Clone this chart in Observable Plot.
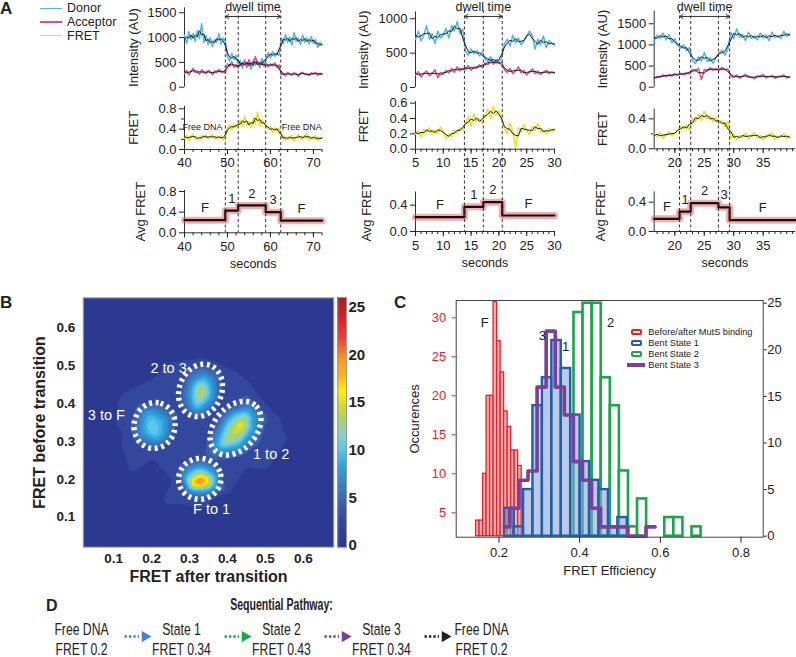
<!DOCTYPE html>
<html><head><meta charset="utf-8">
<script src="https://cdn.jsdelivr.net/npm/d3@7"></script>
<script src="https://cdn.jsdelivr.net/npm/@observablehq/plot@0.6"></script>
<style>
html,body{margin:0;padding:0;background:#fff;}
#root{position:relative;width:796px;height:657px;overflow:hidden;font-family:'Liberation Sans',Arial,sans-serif;color:#222;}
.abs{position:absolute;white-space:nowrap;}
</style></head><body><div id="root"></div>
<script>
// ===================== DATA =====================
// Panel A — legend
const seriesNames = ["Donor", "Acceptor", "FRET"];
const seriesColors = ["#4fb6e6", "#d5509b", "#ece21c"];

// Panel A — column 1 (t = 40 … 72 s, every 0.5 s)
const donor1 = [1050,880,1120,960,1080,920,1150,980,1280,900, 1040,860,1000,820,960,900,1080,870,990,930,
  620,520,680,560,640,470,540,380,560,420, 510,360,560,440,520,390,580,470,560,700,
  590,720,620,690,640,980,880,1060,900,1010, 850,1100,920,980,860,1050,900,990,870,1020, 880,960,800,900,840];
const acceptor1 = [280,340,250,320,380,290,330,260,350,300, 270,340,310,250,330,290,360,300,320,280,
  470,420,510,400,460,390,480,430,520,400, 560,450,430,620,470,440,500,420,480,410,
  470,430,490,400,450,250,280,230,300,260, 240,290,270,220,280,300,250,270,230,290, 260,300,240,280,260];
const fret1 = [.22,.28,.18,.26,.30,.20,.25,.19,.27,.23, .29,.21,.24,.30,.20,.26,.22,.27,.19,.25,
  .42,.48,.38,.50,.44,.47,.58,.45,.66,.48, .55,.42,.62,.50,.74,.46,.58,.52,.47,.40,
  .45,.34,.43,.38,.42,.22,.27,.18,.25,.21, .28,.17,.24,.30,.20,.26,.22,.32,.19,.25, .21,.27,.17,.24,.22];
const transitions1 = [49.5, 52.5, 58.9, 62.4];
const avgLevels1 = [0.245, 0.43, 0.53, 0.40, 0.235];
const stateLabels1 = ["F", "1", "2", "3", "F"];
const freeDnaLabels1 = [{t: 44.2, v: 0.44, s: "Free DNA"}, {t: 67.3, v: 0.44, s: "Free DNA"}];

// Panel A — column 2 (t = 5 … 30 s, every 0.5 s)
const donor2 = [700,820,680,760,900,700,780,640,820,720, 760,860,720,900,820,960,780,850,520,470,
  560,490,540,460,520,420,380,450,360,410, 380,430,640,700,600,760,650,720,620,680,
  750,820,760,560,700,620,750,580,680,640,620];
const acceptor2 = [180,230,150,210,240,170,200,260,140,220, 190,250,210,280,220,300,240,280,260,320,
  250,300,280,330,290,360,330,400,340,380, 350,370,260,220,280,200,240,300,210,250,
  180,230,270,200,240,190,220,250,200,230,210];
const fret2 = [.20,.24,.16,.26,.22,.28,.19,.25,.21,.29, .23,.14,.20,.16,.25,.21,.28,.24,.34,.42,
  .30,.46,.36,.40,.33,.44,.52,.40,.56,.44, .50,.42,.26,.20,.34,.24,.02,.28,.22,.32,
  .25,.19,.30,.24,.34,.22,.26,.20,.27,.23,.27];
const transitions2 = [13.8, 17.2, 20.6];
const avgLevels2 = [0.218, 0.375, 0.445, 0.243];
const stateLabels2 = ["F", "1", "2", "F"];

// Panel A — column 3 (t = 16.5 … 39.5 s, every 0.5 s)
const donor3 = [1100,1230,1150,1280,1120,1250,1050,1150,980,920, 1000,860,940,640,560,720,620,820,600,700,
  560,720,800,880,760,900,1300,1150,1380,1180, 1250,1100,1300,1150,1220,1120,1280,1160,1240,1100,
  1300,1180,1220,1150,1320,1200,1260];
const acceptor3 = [200,260,230,290,250,300,260,320,280,330, 290,350,310,420,380,450,180,420,380,460,
  400,440,390,470,410,430,260,230,290,210, 260,300,230,250,200,270,240,300,220,250,
  280,210,260,240,290,220,250];
const fret3 = [.20,.16,.22,.14,.19,.23,.17,.21,.24,.30, .26,.32,.25,.42,.36,.46,.38,.50,.40,.44,
  .36,.42,.33,.38,.30,.36,.14,.20,.12,.18, .15,.21,.13,.17,.22,.14,.18,.12,.19,.16,
  .21,.13,.17,.15,.20,.14,.17];
const transitions3 = [20.8, 22.7, 27.4, 29.3];
const avgLevels3 = [0.173, 0.27, 0.386, 0.33, 0.155];
const stateLabels3 = ["F", "1", "2", "3", "F"];

// Panel B — transition density samples [FRET after, FRET before, count]
const heatSamples = [
  // empty background
  [0.02,0.02,0],[0.35,0.02,0],[0.68,0.02,0],[0.02,0.35,0],[0.68,0.35,0],[0.02,0.68,0],[0.35,0.68,0],[0.68,0.68,0],
  [0.10,0.15,0],[0.22,0.09,0],[0.40,0.08,0],[0.52,0.14,0],[0.60,0.26,0],[0.60,0.42,0],[0.52,0.52,0],[0.36,0.57,0],[0.22,0.55,0],[0.10,0.46,0],[0.08,0.30,0],
  [0.18,0.18,0],[0.47,0.16,0],[0.56,0.44,0],[0.18,0.50,0],
  // faint patches
  [0.13,0.28,3],[0.15,0.23,3],[0.13,0.42,3],[0.21,0.46,3],[0.25,0.50,3],[0.40,0.48,3],[0.45,0.44,3],[0.52,0.36,3],[0.54,0.30,3],[0.50,0.24,3],[0.24,0.14,3],[0.27,0.25,3],[0.41,0.17,2.5],[0.30,0.32,2.5],
  // F to 1
  [0.33,0.195,25],[0.32,0.19,22],[0.34,0.195,21],[0.31,0.195,18],[0.35,0.19,16],[0.33,0.21,16],[0.30,0.19,14],[0.36,0.20,12],[0.32,0.22,12],[0.33,0.175,11],
  [0.29,0.20,10],[0.345,0.22,10],[0.30,0.17,8],[0.37,0.18,8],[0.33,0.235,8],[0.28,0.21,7],[0.31,0.155,5],[0.375,0.215,7],[0.345,0.16,6],[0.29,0.23,6],
  [0.27,0.20,3],[0.33,0.135,3],[0.39,0.20,3],[0.33,0.265,3],[0.285,0.155,3.5],[0.375,0.155,2],[0.285,0.245,3.5],[0.375,0.245,3],
  // 1 to 2
  [0.435,0.345,18],[0.43,0.335,16],[0.42,0.325,15],[0.41,0.315,14],[0.40,0.305,14],[0.445,0.36,14],[0.425,0.35,14],[0.44,0.325,14],[0.39,0.295,13],[0.405,0.335,13],
  [0.45,0.375,11],[0.455,0.34,11],[0.395,0.32,12],[0.42,0.30,12],[0.38,0.285,10],[0.42,0.365,11],[0.465,0.36,9],[0.38,0.31,9],[0.435,0.29,9],[0.40,0.355,9],
  [0.37,0.27,7],[0.46,0.39,7],[0.475,0.35,6],[0.385,0.355,6],[0.45,0.30,7],[0.41,0.28,8],
  [0.36,0.25,3],[0.47,0.41,3],[0.50,0.34,3.5],[0.44,0.26,3.5],[0.37,0.36,3],[0.40,0.39,3.5],[0.34,0.30,3],[0.49,0.29,3],
  // 2 to 3
  [0.33,0.43,16],[0.33,0.445,14],[0.328,0.415,14],[0.335,0.46,11],[0.32,0.40,12],[0.345,0.435,12],[0.315,0.43,12],[0.34,0.475,8],[0.31,0.39,9],[0.355,0.415,9],
  [0.30,0.42,8],[0.36,0.45,8],[0.325,0.375,7],[0.345,0.49,5],[0.295,0.40,6],[0.365,0.47,6],[0.305,0.46,7],
  [0.33,0.51,3],[0.27,0.43,3],[0.39,0.44,3],[0.33,0.36,3],[0.29,0.37,3],[0.37,0.50,3],[0.29,0.49,3.5],[0.375,0.39,3],
  // 3 to F
  [0.205,0.335,11.5],[0.20,0.35,11],[0.21,0.32,11],[0.195,0.365,10],[0.22,0.34,10],[0.19,0.33,10],[0.215,0.305,9],[0.23,0.355,9],[0.18,0.35,9],[0.20,0.38,8],
  [0.175,0.32,8],[0.235,0.32,8],[0.21,0.29,6],[0.165,0.345,6],[0.245,0.365,6],[0.20,0.395,5],
  [0.14,0.34,3.5],[0.21,0.27,3],[0.27,0.35,3],[0.21,0.41,3],[0.16,0.29,3.5],[0.26,0.30,3],[0.16,0.40,3.5],[0.25,0.40,3]
];
const ellipses = [
  {label: "2 to 3", cx: 0.329, cy: 0.435, a: 0.071, b: 0.056, angle: 70, lx: 0.245, ly: 0.492},
  {label: "3 to F", cx: 0.208, cy: 0.342, a: 0.061, b: 0.054, angle: 80, lx: 0.081, ly: 0.368},
  {label: "1 to 2", cx: 0.421, cy: 0.335, a: 0.080, b: 0.056, angle: 50, lx: 0.515, ly: 0.267},
  {label: "F to 1", cx: 0.327, cy: 0.201, a: 0.056, b: 0.054, angle: 20, lx: 0.358, ly: 0.120}
];
const colorbarTicks = [0, 5, 10, 15, 20, 25];

// Panel C — histograms
const redStart = [0.1345,0.1432,0.1519,0.1606,0.1693,0.1780,0.1867,0.1954,0.2041,0.2128,0.2215,0.2302,0.2389,0.2476];
const redCount = [2,4,4,10,20,20,32,27,23,18,16,13,13,11];          // left axis
const blueStart = [0.2141,0.2375,0.2609,0.2842,0.3076,0.3310,0.3544,0.3778,0.4012,0.4245,0.4479,0.4713,0.4947];
const blueCount = [3,1,5,14,17,21,18,13,8,6,5,1,2];                 // right axis
const greenStart = [0.386,0.4085,0.431,0.4535,0.476,0.4985,0.521,0.5435,0.566,0.5885,0.611,0.6335,0.656,0.6785];
const greenCount = [24,25,25,17,14,7,1,4,0,0,2,2,0,1];              // right axis
const purpleEdges = [0.214,0.227,0.2495,0.272,0.2945,0.317,0.3395,0.362,0.3845,0.407,0.4295,0.452,0.4745,0.497,0.5195,0.542,0.5645,0.587];
const purpleCount = [1,3,6,7,16,22,16,13,8,6,3,1,1,1,0,0,1];         // right axis
const histLabels = [{s: "F", x: 0.165, y: 22.9}, {s: "3", x: 0.3076, y: 21.5}, {s: "1", x: 0.365, y: 20.35}, {s: "2", x: 0.477, y: 22.9}];
const histLegend = ["Before/after MutS binding", "Bent State 1", "Bent State 2", "Bent State 3"];
const histColors = ["#e8202a", "#1f5fad", "#1aa64a", "#7b3f98"];
const leftTicks = [5, 10, 15, 20, 25, 30];
const rightTicks = [0, 5, 10, 15, 20, 25];

// Panel D — pathway
const pathStates = ["Free DNA", "State 1", "State 2", "State 3", "Free DNA"];
const pathFret = [0.2, 0.34, 0.43, 0.34, 0.2];
const pathArrowColors = ["#3d86cb", "#1aa64a", "#7b3f98", "#222222"];

// ===================== LAYOUT / DRAW =====================
const FONT = "'Liberation Sans', Arial, Helvetica, sans-serif";
const W = 796, H = 657, DT = 0.5;
const root = document.getElementById("root");

function place(spec) {
  const {frame, x, y, ...rest} = spec;
  const [x0, y0, x1, y1] = frame;
  const svg = Plot.plot({
    width: W, height: H,
    marginLeft: x0, marginRight: W - x1, marginTop: y0, marginBottom: H - y1,
    x: {axis: null, ...(x || {})},
    y: {axis: null, ...(y || {})},
    ...rest
  });
  Object.assign(svg.style, {position: "absolute", left: "0px", top: "0px", background: "transparent",
    overflow: "visible", fontFamily: FONT, fontSize: "13px", maxWidth: "none"});
  root.appendChild(svg);
  return svg;
}
// horizontally condense the text of a plot (the reference uses a condensed face)
function squeeze(svg, k) {
  svg.querySelectorAll("text").forEach(t => {
    const tr = t.getAttribute("transform") || "";
    t.setAttribute("transform", tr + ` scale(${k},1)`);
  });
}
function html(text, css) {
  const d = document.createElement("div");
  d.className = "abs";
  d.textContent = text;
  Object.assign(d.style, css);
  root.appendChild(d);
  return d;
}
const vLabel = (s, dx, o = {}) => Plot.text([s], {text: d => d, frameAnchor: "left", dx, rotate: -90, textAnchor: "middle", lineAnchor: "middle", fontSize: 13, ...o});
const hLabel = (s, anchor, dy, o = {}) => Plot.text([s], {text: d => d, frameAnchor: anchor, dy, textAnchor: "middle", lineAnchor: "middle", fontSize: 13, ...o});

// ---------- Panel A ----------
const colLayout = [
  {x0: 184, x1: 321.5, xDomain: [40, 72], xTicks: [40, 50, 60, 70], xMinor: d3.range(40, 73, 2),
   int: {top: 7.3, bottom: 86.7, domain: [0, 1600], ticks: [0, 500, 1000, 1500]},
   fr: {top: 105.8, bottom: 149, domain: [0, 0.85], ticks: [0, 0.4, 0.8], minor: [0.2, 0.6]},
   avg: {top: 190, bottom: 232.3, domain: [0, 0.82], ticks: [0, 0.4, 0.8]}, lab: -51, labAvg: -44},
  {x0: 415, x1: 554, xDomain: [5, 30], xTicks: [5, 10, 15, 20, 25, 30], xMinor: d3.range(5, 31, 1),
   int: {top: 11.4, bottom: 87, domain: [0, 1100], ticks: [0, 500, 1000]},
   fr: {top: 101.1, bottom: 148.7, domain: [0, 0.62], ticks: [0, 0.2, 0.4, 0.6], minor: []},
   avg: {top: 191.5, bottom: 231, domain: [0, 0.6], ticks: [0, 0.4]}, lab: -52, labAvg: -49},
  {x0: 653.7, x1: 795.1, xDomain: [16.5, 40.5], xTicks: [20, 25, 30, 35], xMinor: d3.range(17, 41, 1),
   int: {top: 10.6, bottom: 86.7, domain: [0, 1800], ticks: [0, 500, 1000, 1500]},
   fr: {top: 108.6, bottom: 148.3, domain: [0, 0.53], ticks: [0, 0.4], minor: [0.2]},
   avg: {top: 191.4, bottom: 231, domain: [0, 0.54], ticks: [0, 0.4]}, lab: -51, labAvg: -53}
];
const colData = [
  {t0: 40, donor: donor1, acceptor: acceptor1, fret: fret1, transitions: transitions1, levels: avgLevels1, states: stateLabels1, free: freeDnaLabels1},
  {t0: 5, donor: donor2, acceptor: acceptor2, fret: fret2, transitions: transitions2, levels: avgLevels2, states: stateLabels2, free: []},
  {t0: 16.5, donor: donor3, acceptor: acceptor3, fret: fret3, transitions: transitions3, levels: avgLevels3, states: stateLabels3, free: []}
];

function drawColumn(L, D) {
  const rows = arr => arr.map((v, i) => ({t: D.t0 + i * DT, v}));
  const donor = rows(D.donor), acc = rows(D.acceptor), fr = rows(D.fret);
  const smooth = data => Plot.lineY(data, Plot.windowY({k: 3, anchor: "middle"}, {x: "t", y: "v", stroke: "#1a1a1a", strokeWidth: 1}));
  const x = {domain: L.xDomain};
  const yLine = () => Plot.ruleX([L.xDomain[0]], {stroke: "#333", strokeWidth: 1});
  const xLine = () => Plot.ruleY([0], {stroke: "#333", strokeWidth: 1});
  const yAxis = (ticks, fmt) => Plot.axisY(ticks, {anchor: "left", tickSize: 5, tickPadding: 3, fontSize: 13, label: null, tickFormat: fmt});
  const xAxes = (pad) => [
    Plot.axisX(L.xTicks, {anchor: "bottom", tickSize: 5, tickPadding: pad, fontSize: 13, label: null}),
    Plot.axisX(L.xMinor, {anchor: "bottom", tickSize: 3, tickFormat: () => "", label: null})
  ];
  // intensity
  place({frame: [L.x0, L.int.top, L.x1, L.int.bottom], x, y: {domain: L.int.domain}, marks: [
    yLine(), yAxis(L.int.ticks, d3.format("d")),
    Plot.lineY(donor, {x: "t", y: "v", stroke: seriesColors[0], strokeWidth: 1.5}),
    Plot.lineY(acc, {x: "t", y: "v", stroke: seriesColors[1], strokeWidth: 1.5}),
    smooth(donor), smooth(acc),
    vLabel("Intensity (AU)", L.lab)
  ]});
  // FRET
  place({frame: [L.x0, L.fr.top, L.x1, L.fr.bottom], x, y: {domain: L.fr.domain}, marks: [
    yLine(), xLine(),
    yAxis(L.fr.ticks, d3.format(".1f")),
    Plot.axisY(L.fr.minor, {anchor: "left", tickSize: 3, tickFormat: () => "", label: null}),
    ...xAxes(3.5),
    Plot.lineY(fr, {x: "t", y: "v", stroke: seriesColors[2], strokeWidth: 1.5}),
    smooth(fr),
    Plot.text(D.free, {x: "t", y: "v", text: "s", fontSize: 9, fill: "#222"}),
    vLabel("FRET", L.lab)
  ]});
  // Avg FRET
  const b = [L.xDomain[0], ...D.transitions, L.xDomain[1]];
  const steps = D.levels.map((v, i) => ({t: b[i], v})).concat([{t: b[b.length - 1], v: D.levels[D.levels.length - 1]}]);
  const labs = D.levels.map((v, i) => ({t: (b[i] + b[i + 1]) / 2, v, s: D.states[i]}));
  place({frame: [L.x0, L.avg.top, L.x1, L.avg.bottom], x, y: {domain: L.avg.domain}, marks: [
    yLine(), xLine(),
    yAxis(L.avg.ticks, d3.format(".1f")),
    ...xAxes(4),
    Plot.line(steps, {x: "t", y: "v", curve: "step-after", stroke: "#ee5a5a", strokeOpacity: 0.5, strokeWidth: 7}),
    Plot.line(steps, {x: "t", y: "v", curve: "step-after", stroke: "#111", strokeWidth: 2.2}),
    Plot.text(labs, {x: "t", y: "v", text: "s", dy: -12, fontSize: 13}),
    vLabel("Avg FRET", L.labAvg),
    hLabel("seconds", "bottom", 31, {fontSize: 12.5})
  ]});
  // dashed transitions + dwell time
  const first = D.transitions[0], last = D.transitions[D.transitions.length - 1], mid = (first + last) / 2;
  place({frame: [L.x0, 10, L.x1, L.avg.bottom], x, y: {domain: [0, 1]}, marks: [
    Plot.ruleX(D.transitions, {stroke: "#333", strokeDasharray: "3,2.5", strokeWidth: 1}),
    Plot.arrow([first, last], {x1: () => mid, x2: d => d, y1: 0.973, y2: 0.973, stroke: "#333", strokeWidth: 1, headLength: 6}),
    Plot.text(["dwell time"], {text: d => d, x: () => mid, frameAnchor: "top", lineAnchor: "middle", dy: -3.5, fontSize: 12.5})
  ]});
}
colLayout.forEach((L, i) => drawColumn(L, colData[i]));

// legend A
seriesNames.forEach((n, i) => {
  const top = 8.3 + i * 13.7;
  html("", {left: "40px", top: (top - 0.75) + "px", width: "22px", height: "1.5px", background: seriesColors[i]});
  html(n, {left: "67px", top: (top - 8) + "px", fontSize: "12.5px", lineHeight: "16px"});
});

// ---------- Panel B ----------
const heatColor = {type: "linear",
  domain: [0, 2.5, 4, 6, 8, 10, 11.5, 13, 14.5, 16, 17.5, 19.5, 21.5, 23.5, 26],
  range: ["#2b3990", "#33489c", "#3b5ca9", "#3a7cc0", "#29a3dd", "#5cc6e8", "#8dd0c8", "#a6d36a", "#d2dd2e", "#fff200", "#fdb913", "#f7941d", "#ef4136", "#e31e24", "#9e1f22"]};
const heat = heatSamples.map(([x, y, v]) => ({x, y, v}));
const heatThresholds = [2.5, 4, 5, 6, 7, 8, 9, 10, 11, 12, 13, 14, 15, 16, 17, 18, 19, 20, 21, 22, 23, 24, 25];
const ellPts = ellipses.flatMap((e, k) => d3.range(72).map(j => {
  const t = j / 72 * 2 * Math.PI, phi = e.angle * Math.PI / 180;
  const u = e.a * Math.cos(t), w = e.b * Math.sin(t);
  return {k, x: e.cx + u * Math.cos(phi) - w * Math.sin(phi), y: e.cy + u * Math.sin(phi) + w * Math.cos(phi)};
}));
place({frame: [82.7, 297.3, 333.3, 546.7], x: {domain: [0.02, 0.68]}, y: {domain: [0.02, 0.68]}, color: heatColor, marks: [
  Plot.frame({fill: "#2b3990"}),
  Plot.contour(heat, {x: "x", y: "y", fill: "v", interpolate: "barycentric", blur: 0.5, thresholds: heatThresholds,
    x1: 0.02, x2: 0.68, y1: 0.02, y2: 0.68, stroke: "none"}),
  Plot.line(ellPts, {x: "x", y: "y", z: "k", curve: "linear-closed", stroke: "white", strokeWidth: 5.5, strokeDasharray: "3,3.6", strokeLinecap: "butt"}),
  Plot.text(ellipses, {x: "lx", y: "ly", text: "label", fill: "white", fontSize: 14.5}),
  Plot.frame({stroke: "#aaa"}),
  Plot.axisX([0.1, 0.2, 0.3, 0.4, 0.5, 0.6], {anchor: "bottom", tickSize: 0, tickPadding: 6, fontSize: 13.5, fontWeight: "bold", tickFormat: d3.format(".1f"), label: null}),
  Plot.axisY([0.1, 0.2, 0.3, 0.4, 0.5, 0.6], {anchor: "left", tickSize: 0, tickPadding: 8, fontSize: 13.5, fontWeight: "bold", tickFormat: d3.format(".1f"), label: null}),
  hLabel("FRET after transition", "bottom", 30, {fontSize: 16, fontWeight: "bold"}),
  vLabel("FRET before transition", -43, {fontSize: 16, fontWeight: "bold"})
]});
// colorbar
place({frame: [337.3, 297, 346, 547.3], x: {domain: [0, 1]}, y: {domain: [-0.25, 26]}, color: heatColor, marks: [
  Plot.rect(d3.range(-0.25, 26, 0.25), {x1: 0, x2: 1, y1: d => d, y2: d => d + 0.25, fill: d => Math.max(0, d), shapeRendering: "crispEdges"}),
  Plot.frame({stroke: "#999"}),
  Plot.axisY(colorbarTicks, {anchor: "right", tickSize: 0, tickPadding: 2, fontSize: 15, fontWeight: "bold", label: null})
]});

// ---------- Panel C ----------
const L2R = 0.8369; // left-axis count -> right-axis units (left 2 == right 0)
const redRows = redStart.map((s, i) => ({lo: s, hi: s + 0.0087, n: (redCount[i] - 2) * L2R}));
const blueRows = blueStart.map((s, i) => ({lo: s, hi: s + 0.0234, n: blueCount[i]}));
const greenRows = greenStart.map((s, i) => ({lo: s, hi: s + 0.0225, n: greenCount[i]}));
const purpleRows = purpleEdges.map((e, i) => ({x: e, n: purpleCount[Math.min(i, purpleCount.length - 1)]}));
place({frame: [455.7, 300, 762.7, 536.7], x: {domain: [0.094, 0.855]}, y: {domain: [-0.107, 25.29]}, marks: [
  Plot.rect(greenRows, {x1: "lo", x2: "hi", y1: 0, y2: "n", fill: "white", stroke: histColors[2], strokeWidth: 2.6}),
  Plot.rect(redRows, {x1: "lo", x2: "hi", y1: 0, y2: "n", fill: "#f7b3b3", stroke: histColors[0], strokeWidth: 1.3}),
  Plot.rect(blueRows, {x1: "lo", x2: "hi", y1: 0, y2: "n", fill: "#8aa5d5", fillOpacity: 0.6, stroke: histColors[1], strokeWidth: 2.4}),
  Plot.line(purpleRows, {x: "x", y: "n", curve: "step-after", stroke: histColors[3], strokeWidth: 3.6}),
  Plot.frame({stroke: "#444"}),
  Plot.axisX([0.2, 0.4, 0.6, 0.8], {anchor: "bottom", tickSize: 6, tickPadding: 5, fontSize: 13, tickFormat: d3.format(".1f"), label: null}),
  Plot.axisY(leftTicks.map(v => (v - 2) * L2R), {anchor: "left", tickSize: 4, tickPadding: 6, fontSize: 13, color: "#e8202a",
    tickFormat: d => String(Math.round(d / L2R + 2)), label: null}),
  Plot.axisY(rightTicks, {anchor: "right", tickSize: 3, tickPadding: 1, fontSize: 13, label: null}),
  Plot.text(histLabels, {x: "x", y: "y", text: "s", fontSize: 13}),
  hLabel("FRET Efficiency", "bottom", 34),
  vLabel("Occurences", -41)
]});
// legend C
histLegend.forEach((n, i) => {
  const cy = 331.7 + i * 11.1;
  if (i < 3) {
    html("", {left: "631px", top: (cy - 3) + "px", width: "7px", height: "2px", border: "2px solid " + histColors[i], borderRadius: "2px", background: "#fff"});
  } else {
    html("", {left: "627px", top: (cy - 2) + "px", width: "18px", height: "4px", background: histColors[i]});
  }
  html(n, {left: "648.3px", top: (cy - 6) + "px", fontSize: "9.2px", lineHeight: "12px"});
});

// ---------- Panel D ----------
const pathRows = pathStates.map((s, i) => ({i, s, f: "FRET " + pathFret[i]}));
const arrowRows = pathArrowColors.map((c, i) => ({i, c}));
const dFrame = [81, 628.8, 481, 649];
const dStates = place({frame: dFrame, x: {domain: [0, 4]}, y: {domain: [0, 1]}, marks: [
  Plot.text(pathRows, {x: "i", y: 1, text: "s", fontSize: 16.5}),
  Plot.text(pathRows, {x: "i", y: 0, text: "f", fontSize: 16.5})
]});
squeeze(dStates, 0.74);
place({frame: dFrame, x: {domain: [0, 4]}, y: {domain: [0, 1]}, marks: [
  Plot.link(arrowRows, {x1: d => d.i + 0.43, x2: d => d.i + 0.575, y1: 0.64, y2: 0.64, stroke: "c", strokeWidth: 2.6, strokeDasharray: "2.4,2", strokeLinecap: "butt"}),
  Plot.dot(arrowRows, {x: d => d.i + 0.635, y: 0.64, symbol: "triangle", rotate: 90, r: 4.2, fill: "c", stroke: "none"})
]});
const dTitle = place({frame: dFrame, x: {domain: [0, 4]}, y: {domain: [0, 1]}, marks: [
  Plot.text(["Sequential Pathway:"], {text: d => d, x: 2, frameAnchor: "top", lineAnchor: "middle", dy: -24, fontSize: 16, fontWeight: "bold"})
]});
squeeze(dTitle, 0.66);

// panel letters
html("A", {left: "0px", top: "0px", fontWeight: "bold", fontSize: "17px", lineHeight: "18px"});
html("B", {left: "0px", top: "294px", fontWeight: "bold", fontSize: "17px", lineHeight: "18px"});
html("C", {left: "394px", top: "294px", fontWeight: "bold", fontSize: "17px", lineHeight: "18px"});
html("D", {left: "46px", top: "597px", fontWeight: "bold", fontSize: "16px", lineHeight: "18px"});
</script></body></html>
